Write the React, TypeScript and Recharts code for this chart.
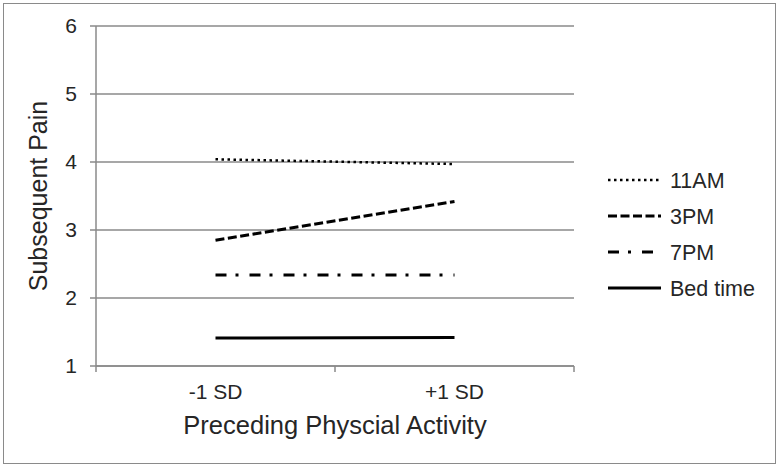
import React from 'react';
import { LineChart, Line, XAxis, YAxis, CartesianGrid, Label } from 'recharts';

const categories = ['-1 SD', '+1 SD'];
const seriesNames = ['11AM', '3PM', '7PM', 'Bed time'];
const am11 = [4.04, 3.97];
const pm3 = [2.85, 3.42];
const pm7 = [2.34, 2.34];
const bedTime = [1.41, 1.42];
const yTicks = [1, 2, 3, 4, 5, 6];
const xTitle = 'Preceding Physcial Activity';
const yTitle = 'Subsequent Pain';

const FONT = '"Liberation Sans", Arial, sans-serif';
const GRID = '#8a8a8a';
const TEXT = '#262626';

const seriesKeys = ['am11', 'pm3', 'pm7', 'bed'];
const seriesValues = [am11, pm3, pm7, bedTime];
const seriesStyles = [
  { dash: '2.5 3.5', width: 2.5 },
  { dash: '9 3.5', width: 3 },
  { dash: '11 9 3 11', width: 3 },
  { dash: undefined as string | undefined, width: 3 },
];

const data = categories.map((c, i) => {
  const row: Record<string, number | string> = { cat: c, x: i + 0.5 };
  seriesKeys.forEach((k, s) => {
    row[k] = seriesValues[s][i];
  });
  return row;
});

const xTicks = [0, 0.5, 1, 1.5, 2];

const XTick = (props: any) => {
  const { x, y, payload } = props;
  const v = payload.value as number;
  if (Number.isInteger(v)) {
    return <line x1={x} x2={x} y1={y} y2={y + 6} stroke={GRID} strokeWidth={1.5} />;
  }
  return (
    <text x={x} y={y + 33} textAnchor="middle" fontSize={21} fontFamily={FONT} fill={TEXT}>
      {categories[Math.floor(v)]}
    </text>
  );
};

const LegendBox = () => (
  <svg
    width={180}
    height={160}
    style={{ position: 'absolute', left: 600, top: 160 }}
  >
    {seriesNames.map((n, i) => {
      const cy = 20 + i * 36;
      const st = seriesStyles[i];
      return (
        <g key={n}>
          <line
            x1={8}
            x2={61}
            y1={cy}
            y2={cy}
            stroke="#000"
            strokeWidth={st.width}
            strokeDasharray={st.dash}
          />
          <text x={70} y={cy + 7.5} fontSize={21.5} fontFamily={FONT} fill={TEXT}>
            {n}
          </text>
        </g>
      );
    })}
  </svg>
);

export default function App() {
  return (
    <div style={{ position: 'absolute', left: 0, top: 0, width: 780, height: 469, background: '#fff' }}>
      <div
        style={{
          position: 'absolute',
          left: 3,
          top: 3,
          width: 773,
          height: 461,
          border: `1.5px solid ${GRID}`,
          boxSizing: 'border-box',
        }}
      />
      <div style={{ position: 'absolute', left: 0, top: 0 }}>
        <LineChart width={780} height={469} data={data} margin={{ top: 26, right: 206, bottom: 0, left: 0 }}>
          <CartesianGrid vertical={false} stroke={GRID} strokeWidth={1.5} />
          <XAxis
            dataKey="x"
            type="number"
            domain={[0, 2]}
            ticks={xTicks}
            interval={0}
            height={103}
            tickSize={0}
            tickMargin={0}
            tickLine={false}
            axisLine={{ stroke: GRID, strokeWidth: 1.5 }}
            tick={<XTick />}
          >
            <Label
              content={(p: any) => {
                const vb = p.viewBox;
                return (
                  <text
                    x={vb.x + vb.width / 2}
                    y={vb.y + 68}
                    textAnchor="middle"
                    fontSize={25.5}
                    fontFamily={FONT}
                    fill={TEXT}
                  >
                    {xTitle}
                  </text>
                );
              }}
            />
          </XAxis>
          <YAxis
            type="number"
            domain={[1, 6]}
            ticks={yTicks}
            interval={0}
            width={96}
            tickSize={6}
            tickMargin={13}
            axisLine={{ stroke: GRID, strokeWidth: 1.5 }}
            tickLine={{ stroke: GRID, strokeWidth: 1.5 }}
            tick={{ fontSize: 21, fontFamily: FONT, fill: TEXT }}
          >
            <Label
              content={(p: any) => {
                const vb = p.viewBox;
                const cx = 47;
                const cy = vb.y + vb.height / 2;
                return (
                  <text
                    x={cx}
                    y={cy}
                    textAnchor="middle"
                    fontSize={25}
                    fontFamily={FONT}
                    fill={TEXT}
                    transform={`rotate(-90 ${cx} ${cy})`}
                  >
                    {yTitle}
                  </text>
                );
              }}
            />
          </YAxis>
          {seriesKeys.map((k, i) => (
            <Line
              key={k}
              dataKey={k}
              name={seriesNames[i]}
              stroke="#000"
              strokeWidth={seriesStyles[i].width}
              strokeDasharray={seriesStyles[i].dash}
              dot={false}
              activeDot={false}
              isAnimationActive={false}
            />
          ))}
        </LineChart>
      </div>
      <LegendBox />
    </div>
  );
}
